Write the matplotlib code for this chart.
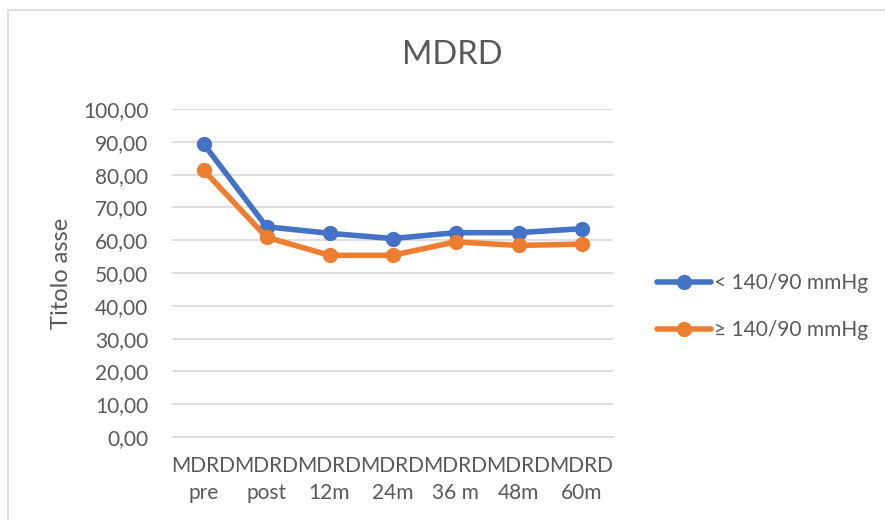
import matplotlib
matplotlib.use("Agg")
import matplotlib.pyplot as plt
from matplotlib.patches import Rectangle

plt.rcParams['font.family'] = ['Lato', 'DejaVu Sans']

categories = ["MDRD\npre", "MDRD\npost", "MDRD\n12m", "MDRD\n24m", "MDRD\n36 m", "MDRD\n48m", "MDRD\n60m"]
below_140 = [89.4, 64.1, 62.1, 60.5, 62.3, 62.3, 63.5]
above_140 = [81.4, 60.9, 55.4, 55.4, 59.5, 58.4, 58.8]
yticks = list(range(0, 101, 10))

TEXT = "#595959"
GRID = "#d9d9d9"

fig = plt.figure(figsize=(8.85, 5.2), dpi=100)
ax = fig.add_axes([172 / 885, 1 - 437 / 520, 441 / 885, 328 / 520])

# chart border (runs past the right and bottom edge)
fig.patches.append(Rectangle((8 / 885, -0.1), 1.2, 1 - 10 / 520 + 0.1,
                             transform=fig.transFigure, fill=False,
                             edgecolor=GRID, linewidth=1.2))

x = list(range(len(categories)))
ax.plot(x, below_140, color="#4472c4", linewidth=4, marker="o", markersize=10,
        label="< 140/90 mmHg", solid_capstyle="round", zorder=3)
ax.plot(x, above_140, color="#ed7d31", linewidth=4, marker="o", markersize=10,
        label="≥ 140/90 mmHg", solid_capstyle="round", zorder=3)

ax.set_xlim(-0.5, len(categories) - 0.5)
ax.set_ylim(0, 100)
ax.set_yticks(yticks)
ax.set_yticklabels([f"{v:.2f}".replace(".", ",") for v in yticks], color=TEXT, fontsize=15)
ax.set_xticks(x)
ax.set_xticklabels(categories, color=TEXT, fontsize=15, linespacing=1.4)
ax.tick_params(length=0)
ax.tick_params(axis="y", pad=17)
ax.tick_params(axis="x", pad=14)
ax.yaxis.grid(True, color=GRID, linewidth=1.2)
ax.set_axisbelow(True)
for s in ax.spines.values():
    s.set_visible(False)
ax.spines["bottom"].set_visible(True)
ax.spines["bottom"].set_color(GRID)
ax.spines["bottom"].set_linewidth(1.2)

ax.set_ylabel("Titolo asse", color=TEXT, fontsize=17, labelpad=8)
fig.text(452 / 885, 1 - 55 / 520, "MDRD", ha="center", va="center", color=TEXT, fontsize=23.5)

leg = ax.legend(loc="center left", bbox_to_anchor=(1.057, 0.397), frameon=False,
                fontsize=15, labelcolor=TEXT, handlelength=2.6, handletextpad=0.15,
                labelspacing=1.3)

fig.savefig("out.png", dpi=100)
